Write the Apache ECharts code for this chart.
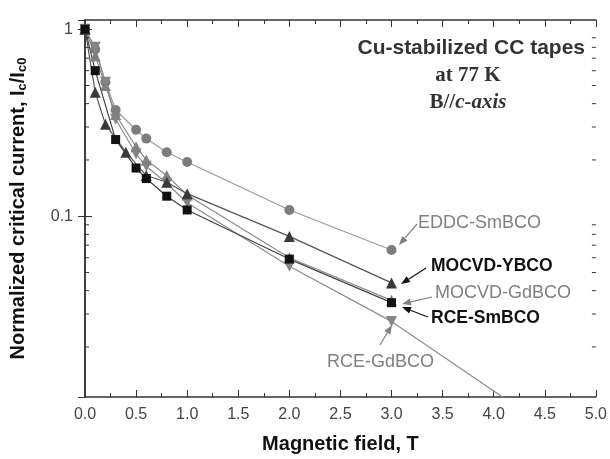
<!DOCTYPE html>
<html>
<head>
<meta charset="utf-8">
<script src="https://cdn.jsdelivr.net/npm/echarts@6/dist/echarts.min.js"></script>
<style>
  html, body { margin: 0; padding: 0; background: #fff; }
  #main { width: 610px; height: 459px; }
</style>
</head>
<body>
<div id="main"></div>
<script>
// 磁场 (T) 与归一化临界电流
var eddcField = [0, 0.1, 0.2, 0.3, 0.5, 0.6, 0.8, 1.0, 2.0, 3.0];
var eddcSmBCO = [1.0, 0.78, 0.52, 0.37, 0.29, 0.26, 0.22, 0.195, 0.108, 0.066];

var ybcoField = [0, 0.1, 0.2, 0.4, 0.6, 0.8, 1.0, 2.0, 3.0];
var mocvdYBCO = [1.0, 0.46, 0.31, 0.22, 0.165, 0.152, 0.132, 0.078, 0.044];

var mgdField = [0, 0.1, 0.2, 0.3, 0.5, 0.6, 0.8, 1.0, 2.0, 3.0];
var mocvdGdBCO = [1.0, 0.72, 0.5, 0.35, 0.235, 0.2, 0.165, 0.13, 0.06, 0.0355];

var rsmField = [0, 0.1, 0.3, 0.5, 0.6, 0.8, 1.0, 2.0, 3.0];
var rceSmBCO = [1.0, 0.6, 0.257, 0.181, 0.159, 0.128, 0.108, 0.059, 0.0345];

var rgdField = [0, 0.1, 0.2, 0.3, 0.5, 0.6, 0.8, 1.0, 2.0, 3.0];
var rceGdBCO = [1.0, 0.8, 0.52, 0.33, 0.215, 0.185, 0.15, 0.118, 0.054, 0.0274];

// RCE-GdBCO 外推线
var fitField = [3.0, 4.2];
var fitValue = [0.0274, 0.0098];

// y 轴次刻度
var yMinorTicks = [0.02, 0.03, 0.04, 0.05, 0.06, 0.07, 0.08, 0.09, 0.2, 0.3, 0.4, 0.5, 0.6, 0.7, 0.8, 0.9];

var xMin = 0, xMax = 5, yMin = 0.0108, yMax = 1.12;

function pairs(xs, ys) {
    var out = [];
    for (var i = 0; i < xs.length; i++) {
        out.push([xs[i], ys[i]]);
    }
    return out;
}

function arrow(x1, y1, x2, y2, color) {
    var ang = Math.atan2(y2 - y1, x2 - x1);
    var len = 9, w = 3.5;
    var bx = x2 - len * Math.cos(ang), by = y2 - len * Math.sin(ang);
    var px = -Math.sin(ang) * w, py = Math.cos(ang) * w;
    return [{
        type: 'line',
        shape: { x1: x1, y1: y1, x2: bx, y2: by },
        style: { stroke: color, lineWidth: 1.2 },
        z: 10
    }, {
        type: 'polygon',
        shape: { points: [[x2, y2], [bx + px, by + py], [bx - px, by - py]] },
        style: { fill: color },
        z: 10
    }];
}

// 文字标注
function note(x, y, text, font, color, align) {
    return {
        type: 'text', x: x, y: y, z: 10,
        style: { text: text, font: font, fill: color, align: align || 'left', verticalAlign: 'middle' }
    };
}

var myChart = echarts.init(document.getElementById('main'));

var sans = 'Liberation Sans, Arial, sans-serif';
var serif = 'Liberation Serif, Times New Roman, serif';

var graphics = [
    note(585, 48, 'Cu-stabilized CC tapes', 'bold 21px ' + sans, '#333', 'right'),
    note(468, 76, 'at 77 K', 'bold 21px ' + serif, '#333', 'center'),
    {
        type: 'text', x: 468, y: 103, z: 10,
        style: {
            text: '{b|B//}{i|c-axis}', align: 'center', verticalAlign: 'middle',
            rich: {
                b: { font: 'bold 21px ' + serif, fill: '#333' },
                i: { font: 'italic bold 21px ' + serif, fill: '#333' }
            }
        }
    },
    note(418, 223, 'EDDC-SmBCO', '18px ' + sans, '#808080'),
    note(431, 266, 'MOCVD-YBCO', 'bold 17.5px ' + sans, '#111'),
    note(435, 293, 'MOCVD-GdBCO', '18px ' + sans, '#808080'),
    note(431, 318, 'RCE-SmBCO', 'bold 17.5px ' + sans, '#111'),
    note(327, 362, 'RCE-GdBCO', '18px ' + sans, '#808080')
];
graphics = graphics
    .concat(arrow(417, 224, 399, 245, '#808080'))
    .concat(arrow(426, 268, 401, 284, '#111'))
    .concat(arrow(432, 297, 402, 304, '#808080'))
    .concat(arrow(428, 317, 402, 307, '#111'))
    .concat(arrow(380, 345, 392, 325, '#808080'));

var option = {
    animation: false,
    grid: { left: 84, right: 8, top: 20, bottom: 60 },
    xAxis: [{
        type: 'value', min: xMin, max: xMax, interval: 0.5,
        name: 'Magnetic field, T', nameLocation: 'middle', nameGap: 37,
        nameTextStyle: { fontFamily: sans, fontWeight: 'bold', fontSize: 20, color: '#111' },
        axisLine: { show: true, lineStyle: { color: '#333', width: 1.5 } },
        axisTick: { show: true, inside: true, length: 7, lineStyle: { color: '#333' } },
        minorTick: { show: true, splitNumber: 2, length: 4, lineStyle: { color: '#333' } },
        axisLabel: { fontFamily: sans, fontSize: 16, color: '#444', margin: 10,
            formatter: function(v) { return v.toFixed(1); } },
        splitLine: { show: false }
    }, {
        type: 'value', position: 'top', min: xMin, max: xMax, interval: 0.5,
        axisLine: { show: true, lineStyle: { color: '#333', width: 1.5 } },
        axisTick: { show: true, inside: true, length: 7, lineStyle: { color: '#333' } },
        minorTick: { show: true, splitNumber: 2, length: 4, lineStyle: { color: '#333' } },
        axisLabel: { show: false },
        splitLine: { show: false }
    }],
    yAxis: [{
        type: 'log', min: yMin, max: yMax, logBase: 10,
        name: 'Normalized critical current, I{s|c}/I{s|c0}', nameLocation: 'middle', nameGap: 56,
        nameTextStyle: {
            fontFamily: sans, fontWeight: 'bold', fontSize: 20, color: '#111',
            rich: { s: { fontFamily: sans, fontWeight: 'bold', fontSize: 13, color: '#111', padding: [9, 0, 0, 0] } }
        },
        axisLine: { show: true, lineStyle: { color: '#333', width: 1.5 } },
        axisTick: { show: true, inside: true, length: 7, lineStyle: { color: '#333' } },
        axisLabel: { fontFamily: sans, fontSize: 16, color: '#444', margin: 12,
            showMinLabel: false, showMaxLabel: false,
            formatter: function(v) {
                var e = Math.log10(v);
                return Math.abs(e - Math.round(e)) < 1e-6 ? String(+v.toPrecision(1)) : '';
            } },
        splitLine: { show: false }
    }, {
        type: 'log', position: 'right', min: yMin, max: yMax, logBase: 10,
        axisLine: { show: true, lineStyle: { color: '#333', width: 1.5 } },
        axisTick: { show: true, inside: true, length: 7, lineStyle: { color: '#333' } },
        axisLabel: { show: false },
        splitLine: { show: false }
    }],
    graphic: graphics,
    series: [{
        // y 轴次刻度 (左右两侧)
        type: 'custom', silent: true, z: 5,
        data: yMinorTicks.map(function(v) { return [0, v]; }),
        renderItem: function(params, api) {
            var v = api.value(1);
            var p0 = api.coord([xMin, v]);
            var p1 = api.coord([xMax, v]);
            return {
                type: 'group',
                children: [{
                    type: 'line', shape: { x1: p0[0], y1: p0[1], x2: p0[0] + 4, y2: p0[1] },
                    style: { stroke: '#333', lineWidth: 1 }
                }, {
                    type: 'line', shape: { x1: p1[0] - 4, y1: p1[1], x2: p1[0], y2: p1[1] },
                    style: { stroke: '#333', lineWidth: 1 }
                }]
            };
        }
    }, {
        name: 'RCE-GdBCO fit', type: 'line', data: pairs(fitField, fitValue),
        showSymbol: false, clip: true,
        lineStyle: { color: '#8c8c8c', width: 1.2 }
    }, {
        name: 'EDDC-SmBCO', type: 'line', data: pairs(eddcField, eddcSmBCO),
        symbol: 'circle', symbolSize: 10,
        itemStyle: { color: '#7d7d7d' },
        lineStyle: { color: '#9a9a9a', width: 1.2 }
    }, {
        name: 'RCE-GdBCO', type: 'line', data: pairs(rgdField, rceGdBCO),
        symbol: 'triangle', symbolRotate: 180, symbolSize: 11,
        itemStyle: { color: '#858585' },
        lineStyle: { color: '#8c8c8c', width: 1.2 }
    }, {
        name: 'MOCVD-GdBCO', type: 'line', data: pairs(mgdField, mocvdGdBCO),
        symbol: 'triangle', symbolSize: 11,
        itemStyle: { color: '#808080' },
        lineStyle: { color: '#8c8c8c', width: 1.2 }
    }, {
        name: 'MOCVD-YBCO', type: 'line', data: pairs(ybcoField, mocvdYBCO),
        symbol: 'triangle', symbolSize: 11,
        itemStyle: { color: '#3a3a3a' },
        lineStyle: { color: '#555', width: 1.2 }
    }, {
        name: 'RCE-SmBCO', type: 'line', data: pairs(rsmField, rceSmBCO),
        symbol: 'rect', symbolSize: 9,
        itemStyle: { color: '#111' },
        lineStyle: { color: '#444', width: 1.2 }
    }]
};

myChart.setOption(option);
</script>
</body>
</html>
